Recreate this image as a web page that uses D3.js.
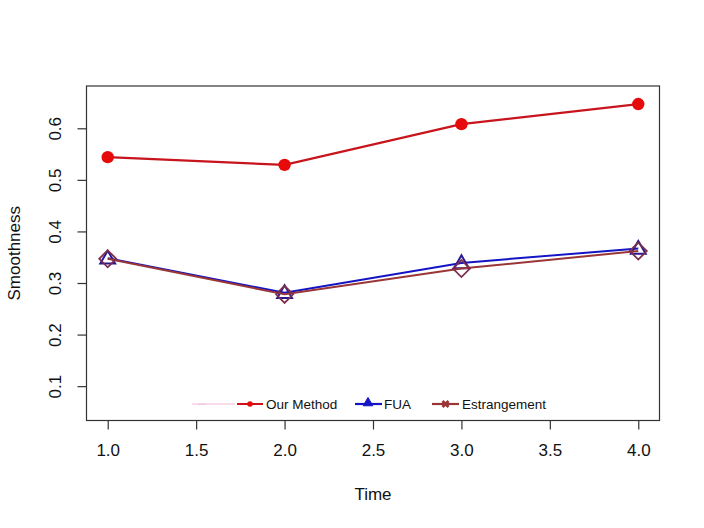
<!DOCTYPE html>
<html>
<head>
<meta charset="utf-8">
<script src="https://cdn.jsdelivr.net/npm/d3@7"></script>
<style>
  html, body { margin: 0; padding: 0; background: #fff; }
  svg { display: block; font-family: "Liberation Sans", Arial, sans-serif; }
</style>
</head>
<body>
<svg id="chart" width="704" height="528"></svg>
<script>
// ---- data ----
const times = [1, 2, 3, 4];
const ourMethod = [0.544, 0.529, 0.608, 0.647];
const fua = [0.348, 0.281, 0.339, 0.367];
const estrangement = [0.347, 0.278, 0.328, 0.362];
const xTicks = [1.0, 1.5, 2.0, 2.5, 3.0, 3.5, 4.0];
const yTicks = [0.1, 0.2, 0.3, 0.4, 0.5, 0.6];
const seriesNames = ["Our Method", "FUA", "Estrangement"];
const xLabel = "Time";
const yLabel = "Smoothness";

// ---- layout ----
const svg = d3.select("#chart");
const box = { left: 86.5, right: 659.5, top: 86, bottom: 420.5 };

const x = d3.scaleLinear().domain([0.88, 4.12]).range([box.left, box.right]);
const y = d3.scaleLinear().domain([0.0334, 0.682]).range([box.bottom, box.top]);

// plot frame
svg.append("rect")
  .attr("x", box.left).attr("y", box.top)
  .attr("width", box.right - box.left).attr("height", box.bottom - box.top)
  .attr("fill", "none").attr("stroke", "#333").attr("stroke-width", 1.2);

// x axis
const xAxis = d3.axisBottom(x).tickValues(xTicks).tickFormat(d3.format(".1f"))
  .tickSize(9).tickPadding(14);
const gx = svg.append("g").attr("transform", `translate(0,${box.bottom})`).call(xAxis);
gx.select(".domain").remove();
gx.selectAll(".tick line").attr("stroke", "#333").attr("stroke-width", 1.2);
gx.selectAll(".tick text").attr("font-size", 17).attr("fill", "#111")
  .attr("font-family", "Liberation Sans, Arial, sans-serif");

// y axis
const yAxis = d3.axisLeft(y).tickValues(yTicks).tickFormat(d3.format(".1f")).tickSize(9);
const gy = svg.append("g").attr("transform", `translate(${box.left},0)`).call(yAxis);
gy.select(".domain").remove();
gy.selectAll(".tick line").attr("stroke", "#333").attr("stroke-width", 1.2);
gy.selectAll(".tick text")
  .attr("font-size", 17).attr("fill", "#111")
  .attr("font-family", "Liberation Sans, Arial, sans-serif")
  .attr("x", null).attr("dy", null)
  .attr("text-anchor", "middle")
  .attr("dominant-baseline", "central")
  .attr("transform", "translate(-31,0) rotate(-90)");

// axis titles
svg.append("text").attr("x", (box.left + box.right) / 2).attr("y", 500)
  .attr("text-anchor", "middle").attr("font-size", 17).attr("fill", "#111").text(xLabel);
svg.append("text").attr("transform", `translate(20,${(box.top + box.bottom) / 2}) rotate(-90)`)
  .attr("text-anchor", "middle").attr("font-size", 17).attr("fill", "#111").text(yLabel);

// series
const colors = { our: "#e60a0a", fua: "#1414c4", est: "#9a3636" };
const line = d3.line().x((d, i) => x(times[i])).y(d => y(d));

const plot = svg.append("g");
// Our Method
plot.append("path").datum(ourMethod).attr("d", line)
  .attr("fill", "none").attr("stroke", "#c8141c").attr("stroke-width", 2.2);
plot.selectAll("circle.our").data(ourMethod).join("circle").attr("class", "our")
  .attr("cx", (d, i) => x(times[i])).attr("cy", d => y(d)).attr("r", 6.2)
  .attr("fill", colors.our);

// FUA
plot.append("path").datum(fua).attr("d", line)
  .attr("fill", "none").attr("stroke", colors.fua).attr("stroke-width", 2);
const tri = d3.symbol().type(d3.symbolTriangle).size(95);
plot.selectAll("path.fua").data(fua).join("path").attr("class", "fua")
  .attr("d", tri)
  .attr("transform", (d, i) => `translate(${x(times[i])},${y(d) + 1})`)
  .attr("fill", "none").attr("stroke", "#2a1890").attr("stroke-width", 2);

// Estrangement
plot.append("path").datum(estrangement).attr("d", line)
  .attr("fill", "none").attr("stroke", colors.est).attr("stroke-width", 2);
const diamond = d => `M0,${-8.5}L8.5,0L0,8.5L${-8.5},0Z`;
plot.selectAll("path.est").data(estrangement).join("path").attr("class", "est")
  .attr("d", diamond)
  .attr("transform", (d, i) => `translate(${x(times[i])},${y(d)})`)
  .attr("fill", "none").attr("stroke", "#7a2e50").attr("stroke-width", 1.8);

// legend
const ly = 404;
const lg = svg.append("g").attr("font-size", 13.5).attr("fill", "#111");
// faint hidden entry
lg.append("line").attr("x1", 192).attr("x2", 235).attr("y1", ly).attr("y2", ly)
  .attr("stroke", "#f7dbe8").attr("stroke-width", 2);
lg.append("text").attr("x", 198).attr("y", ly).attr("dy", "0.1em").attr("font-size", 9)
  .attr("fill", "#e4a8c4").text("...");
// Our Method
lg.append("line").attr("x1", 237).attr("x2", 263).attr("y1", ly).attr("y2", ly)
  .attr("stroke", "#d01018").attr("stroke-width", 2);
lg.append("circle").attr("cx", 250).attr("cy", ly).attr("r", 2.8).attr("fill", colors.our);
lg.append("text").attr("x", 266).attr("y", ly).attr("dy", "0.35em").text(seriesNames[0]);
// FUA
lg.append("line").attr("x1", 355).attr("x2", 382).attr("y1", ly).attr("y2", ly)
  .attr("stroke", colors.fua).attr("stroke-width", 2.2);
lg.append("path").attr("d", d3.symbol().type(d3.symbolTriangle).size(40))
  .attr("transform", `translate(368,${ly - 1})`).attr("fill", colors.fua)
  .attr("stroke", colors.fua).attr("stroke-width", 1);
lg.append("text").attr("x", 384).attr("y", ly).attr("dy", "0.35em").text(seriesNames[1]);
// Estrangement
lg.append("line").attr("x1", 432).attr("x2", 459).attr("y1", ly).attr("y2", ly)
  .attr("stroke", colors.est).attr("stroke-width", 2.2);
lg.append("path").attr("d", d3.symbol().type(d3.symbolCross).size(40))
  .attr("transform", `translate(445.5,${ly}) rotate(45)`).attr("fill", colors.est);
lg.append("text").attr("x", 462).attr("y", ly).attr("dy", "0.35em").text(seriesNames[2]);
</script>
</body>
</html>
